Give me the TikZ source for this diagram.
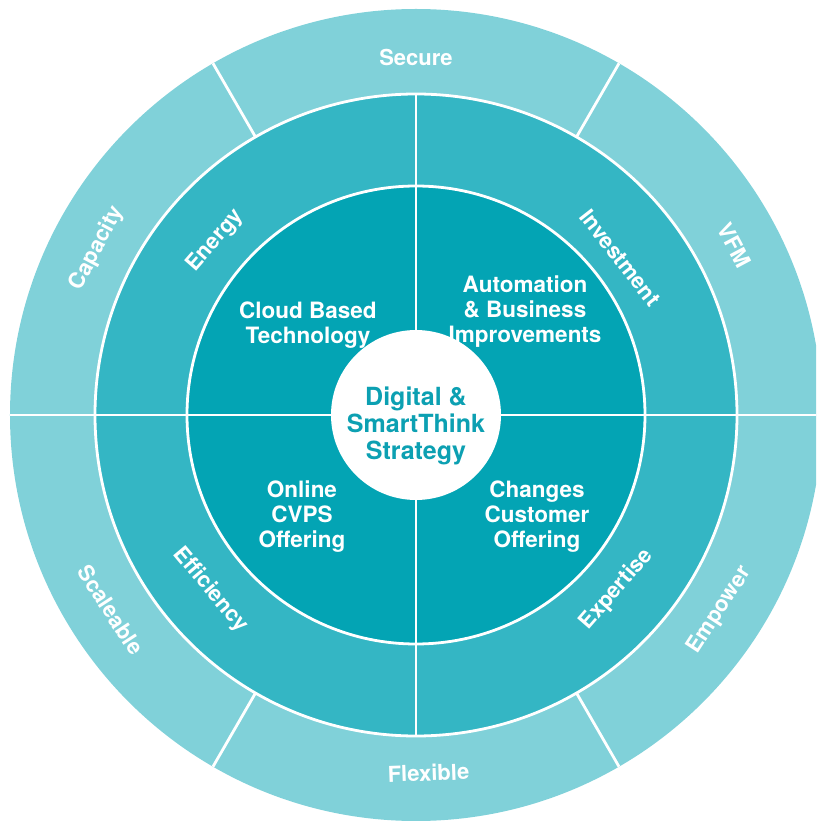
\documentclass[tikz,border=0pt]{standalone}
\usepackage{fontspec}
\setmainfont{TeX Gyre Heros}
\usepackage{tikz}
\usetikzlibrary{positioning}
\definecolor{outerteal}{RGB}{128,209,217}
\definecolor{midteal}{RGB}{52,182,196}
\definecolor{innerteal}{RGB}{3,164,180}
\definecolor{hubtext}{RGB}{12,160,178}
\tikzstyle{ring}=[%
      text=white, font=\bfseries\fontsize{22}{25}\selectfont, inner sep=0pt
]
\tikzstyle{core}=[%
      text=white, font=\bfseries\fontsize{22.5}{25}\selectfont, align=center, inner sep=0pt
]
\tikzstyle{hub}=[%
      text=hubtext, font=\bfseries\fontsize{25}{27}\selectfont, align=center, inner sep=0pt
]
\tikzstyle{gap}=[%
      draw=white, line width=2.8pt
]
\begin{document}
\begin{tikzpicture}[x=1pt, y=1pt]
    \useasboundingbox (-416,-406) rectangle (400,415);
    \clip (-416,-406) rectangle (400,415);

    % rings
    \fill[outerteal] (0,0) circle (406);
    \fill[midteal]   (0,0) circle (321);
    \fill[innerteal] (0,0) circle (229);
    \draw[gap] (0,0) circle (321);
    \draw[gap] (0,0) circle (229);

    % dividers
    \draw[gap] (-406,0) -- (406,0);
    \draw[gap] (0,-321) -- (0,321);
    \foreach \a in {60,120,240,300}
      \draw[gap] (\a:321) -- (\a:406);

    % hub
    \fill[white] (0,0) circle (85);
    \node[hub] (hub) at (0,-11) {Digital \&\\SmartThink\\Strategy};

    % inner quadrants
    \node[core] (cloud)  at (-108,90)  {Cloud Based\\Technology};
    \node[core] (auto)   at (109,103)  {Automation\\\& Business\\Improvements};
    \node[core] (online) at (-114,-102) {Online\\CVPS\\Offering};
    \node[core] (change) at (121,-102) {Changes\\Customer\\Offering};

    % middle ring
    \node[ring, rotate=49]  (energy) at (139:266)  {Energy};
    \node[ring, rotate=-52] (invest) at (37.6:258) {Investment};
    \node[ring, rotate=49]  (expert) at (-41:266)  {Expertise};
    \node[ring, rotate=-50] (effic)  at (-139.6:270) {Efficiency};

    % outer ring
    \node[ring]             (secure) at (90:358)   {Secure};
    \node[ring, rotate=-62] (vfm)    at (28:361)   {VFM};
    \node[ring, rotate=57]  (empow)  at (-32.7:361) {Empower};
    \node[ring, rotate=2]   (flex)   at (-88:358)  {Flexible};
    \node[ring, rotate=-57] (scale)  at (-147.4:362) {Scaleable};
    \node[ring, rotate=62]  (capac)  at (152.4:360) {Capacity};
\end{tikzpicture}
\end{document}
